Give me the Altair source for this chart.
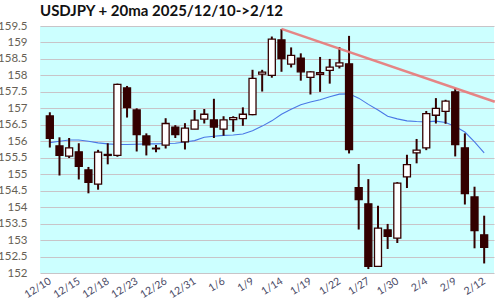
import altair as alt
import pandas as pd

dates = ["12/10","12/11","12/12","12/15","12/16","12/17","12/18","12/19","12/22","12/23",
         "12/24","12/25","12/26","12/29","12/30","12/31","1/2","1/5","1/6","1/7",
         "1/8","1/9","1/12","1/13","1/14","1/15","1/16","1/19","1/20","1/21",
         "1/22","1/23","1/26","1/27","1/28","1/29","1/30","2/2","2/3","2/4",
         "2/5","2/6","2/9","2/10","2/11","2/12"]
opens = [156.77,155.86,155.55,155.68,155.13,154.70,155.60,155.57,157.62,156.95,
         156.16,155.79,155.88,156.43,155.98,156.37,156.67,156.65,156.37,156.66,
         156.69,156.81,158.04,158.00,159.08,158.34,158.52,157.94,158.03,158.15,
         158.28,158.35,154.59,154.10,152.20,153.31,153.06,154.92,155.65,155.80,
         156.79,156.91,157.50,155.80,154.31,153.16]
highs = [156.88,156.12,156.10,155.94,155.22,155.74,155.94,157.75,157.68,157.00,
         156.24,155.89,156.70,156.49,156.55,156.95,156.98,157.29,156.76,156.76,
         157.03,158.17,158.17,159.18,159.41,158.85,158.67,158.13,158.56,158.50,
         158.86,159.20,155.31,154.85,154.04,153.49,154.76,155.59,156.07,156.92,
         157.31,157.26,157.61,156.24,154.62,153.74]
lows = [155.81,154.96,155.49,154.84,154.42,154.53,155.30,155.53,156.72,155.69,
        155.57,155.67,155.78,156.10,155.75,156.37,156.54,156.10,156.17,156.29,
        156.47,156.79,157.51,157.93,158.11,158.24,157.84,157.42,157.50,157.75,
        158.21,155.63,153.32,152.12,152.18,152.73,152.91,154.58,155.33,155.73,
        156.54,156.53,155.54,154.08,152.75,152.29]
closes = [156.09,155.57,155.80,155.24,154.75,155.67,155.57,157.73,157.02,156.20,
          155.89,155.77,156.54,156.20,156.40,156.64,156.82,156.43,156.65,156.72,
          156.82,157.91,158.10,159.10,158.51,158.61,158.11,158.11,158.08,158.25,
          158.38,155.75,154.23,152.20,153.36,153.11,154.73,155.29,155.73,156.84,
          157.00,157.22,155.90,154.41,153.29,152.78]
ma20 = [155.96,156.00,156.04,156.04,156.00,155.95,155.92,155.90,155.90,155.91,
        155.92,155.92,155.93,155.94,155.98,156.02,156.12,156.15,156.18,156.19,
        156.22,156.32,156.46,156.62,156.82,156.97,157.11,157.19,157.26,157.35,
        157.43,157.44,157.31,157.12,156.95,156.76,156.68,156.62,156.60,156.59,
        156.61,156.57,156.45,156.28,155.98,155.65]
trend_x = [24, 46.1]
trend_y = [159.41, 157.20]
y_ticks = [152.0, 152.5, 153.0, 153.5, 154.0, 154.5, 155.0, 155.5, 156.0, 156.5,
           157.0, 157.5, 158.0, 158.5, 159.0, 159.5]

n = len(dates)
df = pd.DataFrame({"i": list(range(n)), "date": dates, "open": opens, "high": highs,
                   "low": lows, "close": closes, "ma": ma20})
df["up"] = df["close"] >= df["open"]
tdf = pd.DataFrame({"i": trend_x, "v": trend_y})

tick_idx = list(range(0, n, 3))
label_arr = "[" + ",".join("'" + d + "'" for d in dates) + "]"

DARK = "#330000"
xs = alt.Scale(domain=[-0.5, n - 0.5], nice=False, zero=False)
ys = alt.Scale(domain=[152, 159.5], nice=False, zero=False)

xaxis = alt.Axis(values=tick_idx, labelExpr=label_arr + "[datum.value]", title=None,
                 grid=False, domain=False, ticks=False, labelAngle=-32,
                 labelAlign="right", labelBaseline="middle", labelPadding=7,
                 labelOverlap=False, labelFlush=False, labelBound=False,
                 labelFontSize=10.5, labelColor="#4a4a66", labelFont="Lato")
yaxis = alt.Axis(values=y_ticks, format=".1~f", title=None, grid=True,
                 gridColor="#c8c4c8", gridWidth=1.2, domain=False, ticks=False,
                 labelOverlap=False, labelFlush=False,
                 labelPadding=13, labelFontSize=11.5, labelColor="#665f55", labelFont="Lato")


def X():
    return alt.X("i:Q", scale=xs, axis=xaxis)


def Y(field):
    return alt.Y(field, scale=ys, axis=yaxis)


base = alt.Chart(df)
ma_line = base.mark_line(color="#4a78e6", strokeWidth=1.1).encode(x=X(), y=Y("ma:Q"))
wick = base.mark_rule(color=DARK, strokeWidth=2).encode(x=X(), y=Y("low:Q"), y2="high:Q")
body = base.mark_bar(size=7, stroke=DARK, strokeWidth=1.3).encode(
    x=X(), y=Y("open:Q"), y2="close:Q",
    fill=alt.condition("datum.up", alt.value("white"), alt.value(DARK)))
trend = alt.Chart(tdf).mark_line(color="#e87878", strokeWidth=2.4, clip=False, opacity=0.9).encode(
    x=X(), y=Y("v:Q"))

chart = alt.layer(ma_line, wick, body, trend).properties(
    width=454, height=247,
    title=alt.TitleParams("USDJPY + 20ma 2025/12/10->2/12", anchor="start", frame="group",
                          fontSize=15, fontWeight="bold", font="Lato", color="#111111", offset=1),
    autosize=alt.AutoSizeParams(type="none"),
    padding={"left": 40, "top": 26, "right": 6, "bottom": 27},
    background="white",
).configure_view(stroke=None, fill="#ccffff")

chart.save("out.html", embed_options={"renderer": "svg", "actions": False})
